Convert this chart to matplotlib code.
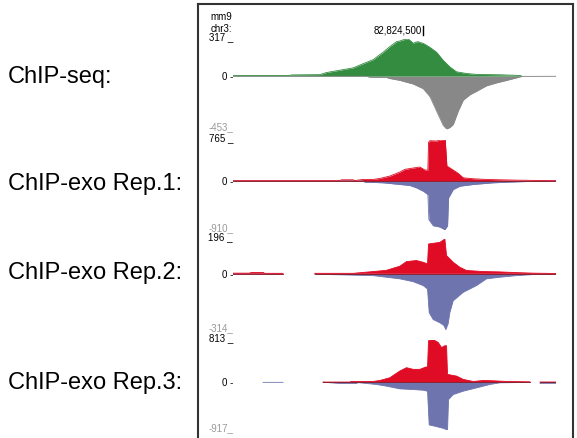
import numpy as np
import matplotlib
matplotlib.use("Agg")
import matplotlib.pyplot as plt
from matplotlib.lines import Line2D

plt.rcParams['font.family'] = ['Liberation Sans', 'DejaVu Sans']

W, H = 577, 439
nan = np.nan

# window: offsets in bp from the left edge of the browser view
WINDOW = 1936
TICK_POS = 1136
TICK_LABEL = "82,824,500"

track_names = ["ChIP-seq:", "ChIP-exo Rep.1:", "ChIP-exo Rep.2:", "ChIP-exo Rep.3:"]
track_max = [317, 765, 196, 813]
track_min = [453, 910, 314, 917]

# ChIP-seq, plus strand (green) / minus strand (grey)
seq_plus_pos = [0, 340, 350, 520, 560, 640, 720, 780, 840, 900, 940, 980, 1000, 1020, 1050,
                1065, 1080, 1095, 1110, 1125, 1140, 1180, 1220, 1260, 1300, 1340, 1400, 1460,
                1600, 1720, 1730]
seq_plus_val = [4, 4, 10, 12, 30, 50, 70, 106, 140, 204, 252, 294, 300, 310, 317,
                300, 280, 290, 294, 285, 280, 246, 204, 134, 78, 36, 22, 14,
                11, 5, 0]
seq_minus_pos = [0, 800, 820, 920, 940, 1000, 1080, 1140, 1180, 1200, 1230, 1260, 1280, 1300,
                 1320, 1350, 1380, 1420, 1460, 1520, 1580, 1640, 1700, 1730, 1936]
seq_minus_val = [2, 2, 10, 12, 21, 37, 68, 108, 175, 237, 330, 422, 453, 440,
                 415, 300, 206, 160, 130, 83, 58, 37, 15, 3, 2]

# ChIP-exo replicate 1
rep1_plus_pos = [0, 640, 650, 720, 730, 780, 840, 880, 940, 1000, 1030, 1080, 1120, 1150, 1168,
                 1172, 1180, 1220, 1250, 1272, 1282, 1320, 1350, 1380, 1440, 1520, 1600, 1700,
                 1840, 1936]
rep1_plus_val = [3, 3, 19, 19, 5, 25, 25, 44, 88, 163, 213, 238, 257, 200, 200,
                 716, 746, 740, 765, 765, 276, 200, 138, 56, 38, 25, 19, 12,
                 6, 2]
rep1_minus_pos = [0, 780, 790, 900, 1000, 1060, 1100, 1140, 1168, 1174, 1200, 1240, 1270, 1286,
                  1292, 1320, 1360, 1440, 1560, 1700, 1840, 1936]
rep1_minus_val = [3, 3, 25, 37, 68, 87, 131, 193, 255, 723, 835, 860, 910, 835,
                  318, 162, 100, 68, 37, 19, 6, 2]

# ChIP-exo replicate 2
rep2_plus_pos = [0, 100, 110, 180, 190, 300, 310, 490, 720, 840, 920, 1000, 1040, 1100, 1140,
                 1166, 1172, 1240, 1270, 1280, 1320, 1360, 1400, 1500, 1600, 1700, 1800, 1936]
rep2_plus_val = [4, 4, 8, 8, 3, 3, nan, 3, 3, 13, 20, 43, 69, 75, 65,
                 56, 168, 177, 196, 103, 65, 37, 19, 13, 11, 7, 4, 2]
rep2_minus_pos = [0, 300, 310, 490, 840, 920, 1000, 1080, 1140, 1166, 1176, 1200, 1240, 1264,
                  1276, 1290, 1300, 1320, 1380, 1460, 1520, 1600, 1700, 1800, 1936]
rep2_minus_val = [2, 2, nan, 2, 10, 19, 28, 44, 66, 85, 218, 257, 275, 290,
                  314, 280, 218, 152, 104, 66, 28, 19, 10, 4, 2]

# ChIP-exo replicate 3
rep3_plus_pos = [540, 700, 710, 840, 880, 940, 1000, 1040, 1080, 1120, 1156, 1166, 1172, 1200,
                 1230, 1250, 1270, 1280, 1286, 1340, 1380, 1440, 1500, 1560, 1640, 1780, 1800,
                 1840, 1936]
rep3_plus_val = [2, 2, 13, 13, 32, 84, 213, 277, 245, 245, 290, 290, 793, 813,
                 761, 664, 697, 697, 148, 116, 52, 13, 32, 26, 13, 6, nan,
                 3, 3]
rep3_minus_pos = [180, 300, 310, 540, 640, 740, 750, 860, 920, 1000, 1080, 1140, 1166, 1176,
                  1220, 1260, 1286, 1292, 1320, 1380, 1460, 1540, 1600, 1780, 1800, 1840, 1936]
rep3_minus_val = [4, 4, nan, 2, 26, 26, 10, 45, 77, 129, 142, 155, 174, 820,
                  852, 885, 917, 335, 239, 174, 110, 45, 13, 5, nan, 26, 26]

plus_series = [(seq_plus_pos, seq_plus_val), (rep1_plus_pos, rep1_plus_val),
               (rep2_plus_pos, rep2_plus_val), (rep3_plus_pos, rep3_plus_val)]
minus_series = [(seq_minus_pos, seq_minus_val), (rep1_minus_pos, rep1_minus_val),
                (rep2_minus_pos, rep2_minus_val), (rep3_minus_pos, rep3_minus_val)]
plus_colors = ["#338c40", "#e00b25", "#e00b25", "#e00b25"]
minus_colors = ["#888888", "#6e74ad", "#6e74ad", "#6e74ad"]

# pixel layout of the tracks (top, bottom)
track_px = [(40, 130), (140.7, 230.7), (240, 330.7), (340.7, 431)]
name_y = [77, 184, 273, 383]
data_left, data_right = 233, 556

fig = plt.figure(figsize=(W / 100, H / 100), dpi=100)

for i, (top, bot) in enumerate(track_px):
    ax = fig.add_axes([data_left / W, 1 - bot / H, (data_right - data_left) / W, (bot - top) / H])
    ax.set_xlim(0, WINDOW)
    ax.set_ylim(-track_min[i], track_max[i])
    ax.axis('off')

    mp, mv = minus_series[i]
    mp = np.array(mp, float)
    mv = -np.array(mv, float)
    ax.fill_between(mp, 0, mv, color=minus_colors[i], lw=0)
    ax.plot(mp, mv, color=minus_colors[i], lw=0.6)

    pp, pv = plus_series[i]
    pp = np.array(pp, float)
    pv = np.array(pv, float)
    ax.fill_between(pp, 0, pv, color=plus_colors[i], lw=0)
    ax.plot(pp, pv, color=plus_colors[i], lw=0.6)
    if i > 0:
        zero = np.where(np.isnan(pv), nan, 0)
        ax.plot(pp, zero, color="#8a1520", lw=0.6)

    tr = ax.get_yaxis_transform()
    ax.text(0, track_max[i], f"{track_max[i]} _", transform=tr, ha='right', va='baseline',
            fontsize=7, color='black')
    ax.text(0, 0, "0 -", transform=tr, ha='right', va='center', fontsize=7, color='black')
    ax.text(0, -track_min[i], f"-{track_min[i]}_", transform=tr, ha='right', va='baseline',
            fontsize=7, color='#9a9a9a')

    fig.text(8 / W, 1 - name_y[i] / H, track_names[i], ha='left', va='center', fontsize=17)

    if i == 0:
        # genomic position tick above the first track
        ax.text(TICK_POS - 6, 1.1, TICK_LABEL, transform=ax.get_xaxis_transform(),
                ha='right', va='center', fontsize=7)
        ax.plot([TICK_POS, TICK_POS], [1.05, 1.15], transform=ax.get_xaxis_transform(),
                color='black', lw=1, clip_on=False)

fig.text(210 / W, 1 - 16.5 / H, "mm9", ha='left', va='center', fontsize=7)
fig.text(211 / W, 1 - 28.5 / H, "chr3:", ha='left', va='center', fontsize=7)

# browser frame
frame = dict(color='#333333', lw=1.5)
fig.add_artist(Line2D([198 / W, 198 / W], [0, 1 - 5 / H], **frame))
fig.add_artist(Line2D([198 / W, 573 / W], [1 - 5 / H, 1 - 5 / H], **frame))
fig.add_artist(Line2D([573 / W, 573 / W], [0, 1 - 5 / H], **frame))

fig.savefig("out.png", dpi=100, facecolor='white')
